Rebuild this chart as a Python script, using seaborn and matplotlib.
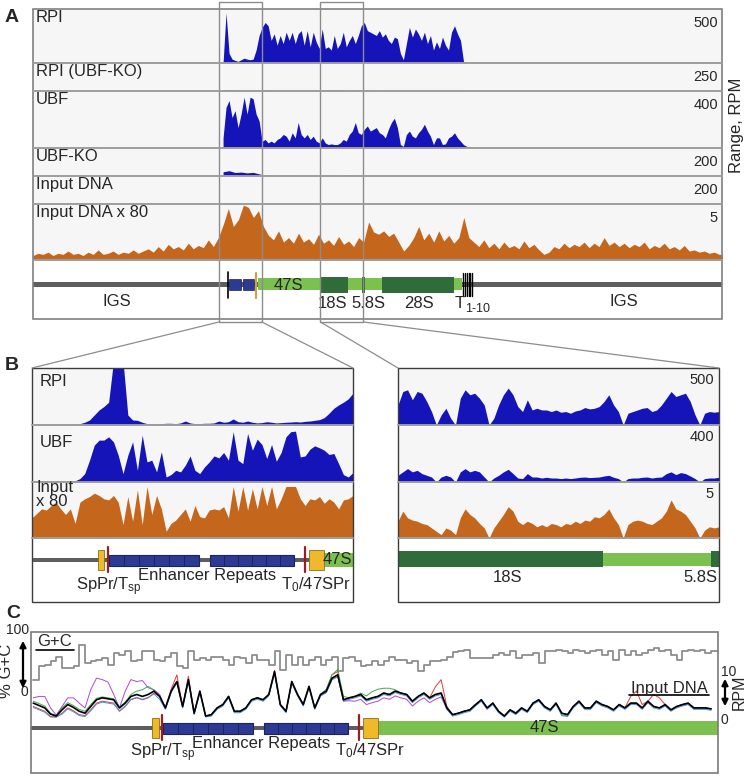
import numpy as np
import pandas as pd
import seaborn as sns
import matplotlib
matplotlib.use('Agg')
import matplotlib.pyplot as plt
from matplotlib.patches import Rectangle

W, H = 747, 776

# ---------------- data ----------------
# genomic position in kb, 47S transcription start = 0
A_XLIM = (-14.6, 30.1)
B_LEFT_XLIM = (-2.54, 0.25)
B_RIGHT_XLIM = (4.05, 6.84)
C_XLIM = (-3.02, 2.96)

# panel A, RPI / UBF ChIP (RPM), bins of 0.195 kb from -2.27 kb
A_CHIP_START, A_CHIP_STEP = -2.27, 0.195
rpi_a = [0, 465, 90, 36, 24, 15, 30, 45, 36, 30,
         36, 120, 255, 330, 375, 345, 210, 270, 165, 255,
         180, 285, 210, 285, 180, 270, 300, 165, 300, 150,
         285, 195, 135, 315, 135, 150, 120, 255, 135, 180,
         285, 150, 210, 255, 180, 255, 345, 375, 300, 285,
         270, 255, 300, 240, 270, 210, 180, 240, 225, 90,
         30, 180, 330, 240, 315, 270, 210, 285, 180, 255,
         120, 195, 135, 240, 165, 120, 285, 345, 270, 210,
         15, 6, 0]
ubf_a = [71, 286, 333, 214, 262, 143, 238, 357, 238, 357,
         345, 238, 190, 48, 60, 36, 48, 36, 60, 71,
         95, 83, 48, 107, 71, 179, 95, 71, 95, 60,
         83, 48, 36, 71, 36, 24, 29, 24, 24, 36,
         60, 48, 95, 119, 179, 107, 95, 131, 155, 119,
         131, 143, 107, 95, 71, 131, 179, 209, 143, 24,
         12, 95, 119, 83, 71, 107, 131, 167, 119, 83,
         24, 71, 71, 24, 29, 71, 83, 107, 71, 48,
         24, 12, 5]

# knockouts and plain input, bins of 0.39 kb
A_KO_START, A_KO_STEP = -2.27, 0.39
rpi_ko_a = [12, 14, 10, 6, 8, 0, 6, 10, 8, 5, 8, 6, 0, 5, 6, 8, 5, 6, 10, 12,
            8, 6, 10, 5, 8, 6, 0, 5, 6, 8, 6, 5, 8, 6, 5, 6, 0, 5, 6, 5, 0, 0]
ubf_ko_a = [30, 38, 25, 28, 22, 26, 15, 5, 4, 3, 4, 5, 3, 4, 0, 3, 4, 5, 4, 3,
            4, 5, 3, 4, 4, 3, 0, 3, 4, 3, 4, 3, 4, 3, 0, 3, 4, 3, 0, 0, 0, 0]
input_a = [8, 6, 4, 7, 5, 4, 2, 1, 1, 2, 1, 1, 2, 1, 1, 2, 1, 1, 2, 1,
           1, 1, 2, 1, 1, 1, 2, 1, 1, 1, 2, 1, 1, 1, 1, 2, 1, 1, 1, 0, 0, 0]

# input DNA x 80 over the whole repeat, bins of 0.325 kb
A_IN80_START, A_IN80_STEP = -14.6, 0.325
input80_a = [0.4, 0.6, 0.5, 0.7, 0.4, 0.6, 0.5, 0.8, 0.5, 0.6,
             0.4, 0.7, 0.5, 0.9, 0.5, 0.6, 0.8, 0.5, 0.7, 0.6,
             0.9, 0.6, 0.8, 1.0, 0.7, 1.2, 0.8, 1.4, 1.0, 1.2,
             0.9, 1.5, 1.0, 1.3, 1.1, 1.8, 1.2, 2.0, 3.2, 4.6,
             3.0, 3.6, 4.9, 4.7, 3.8, 4.4, 3.0, 2.2, 1.8, 2.6,
             1.6, 2.0, 1.5, 2.4, 1.6, 1.9, 1.4, 2.3, 1.5, 1.8,
             1.3, 2.1, 1.4, 1.7, 1.2, 2.0, 1.6, 3.4, 2.5, 2.3,
             2.6, 2.1, 2.4, 1.6, 0.8, 1.3, 2.0, 3.0, 1.8, 2.4,
             1.6, 2.6, 1.7, 2.2, 1.5, 2.0, 3.8, 2.0, 1.6, 1.2,
             1.8, 1.1, 1.5, 1.0, 1.6, 1.1, 1.3, 1.0, 1.7, 1.1,
             1.4, 0.9, 0.5, 0.7, 1.2, 1.0, 1.5, 1.1, 1.4, 1.2,
             1.6, 1.1, 1.5, 1.2, 2.0, 1.3, 1.6, 1.2, 1.5, 1.1,
             1.4, 1.2, 1.6, 1.0, 1.3, 1.1, 1.5, 1.0, 1.2, 0.9,
             1.3, 0.8, 0.9, 0.7, 0.8, 0.6, 0.7, 0.5, 0.5]

a_labels = ['RPI', 'RPI (UBF-KO)', 'UBF', 'UBF-KO', 'Input DNA', 'Input DNA x 80']
a_ranges = [500, 250, 400, 200, 200, 5]

# panel B, values spread evenly across each zoom window
rpi_bl = [0, 0, 0, 0, 0, 6, 6, 6, 6, 6, 12, 24, 44, 88, 132, 162, 200, 560, 560, 560,
          88, 44, 41, 24, 12, 9, 9, 12, 15, 15, 12, 18, 35, 18, 12, 12, 15, 15, 18, 35,
          24, 29, 53, 29, 24, 35, 24, 18, 21, 29, 24, 18, 21, 24, 26, 29, 26, 32, 35, 41,
          47, 65, 103, 147, 176, 200, 229, 279]
ubf_bl = [5, 5, 5, 5, 5, 5, 5, 5, 5, 9, 24, 59, 153, 259, 294, 294, 317, 282, 188, 59,
          188, 282, 82, 329, 141, 153, 71, 212, 35, 52, 82, 71, 118, 183, 82, 59, 106, 141, 183, 169,
          207, 153, 353, 153, 129, 341, 223, 301, 263, 165, 263, 146, 207, 317, 353, 357, 176, 183, 230, 254,
          240, 223, 193, 200, 129, 52, 35, 66]
input80_bl = [1.8, 2.2, 2.6, 2.5, 2.9, 3.2, 2.6, 2.1, 2.6, 1.3, 3.2, 3.5, 3.7, 4.0, 3.8, 3.5, 3.4, 3.8, 3.2, 1.2,
              3.7, 1.5, 4.3, 1.2, 4.6, 2.1, 3.8, 2.6, 0.6, 1.3, 1.6, 2.1, 2.6, 1.5, 2.9, 1.9, 1.8, 2.5, 2.6, 2.5,
              2.8, 1.8, 4.6, 2.4, 4.6, 2.5, 4.4, 2.6, 4.6, 2.9, 4.6, 2.6, 3.5, 4.6, 4.6, 4.6, 3.5, 2.9, 3.5, 3.4,
              3.7, 3.1, 3.5, 3.2, 2.6, 3.4, 3.5, 3.8]
rpi_br = [176, 294, 309, 221, 294, 279, 206, 118, 0, 88, 147, 59, 0, 235, 309, 265, 279, 235, 176, 0,
          59, 176, 265, 324, 265, 162, 118, 221, 132, 147, 132, 132, 118, 132, 112, 118, 103, 123, 132, 153,
          141, 147, 162, 206, 265, 176, 118, 0, 103, 118, 132, 147, 153, 118, 132, 176, 235, 294, 250, 265,
          279, 206, 88, 0, 103, 118, 112, 118]
ubf_br = [47, 71, 94, 71, 82, 59, 47, 35, 0, 35, 47, 35, 0, 71, 94, 71, 82, 71, 35, 0,
          28, 47, 71, 89, 59, 28, 24, 59, 35, 35, 28, 33, 28, 28, 24, 28, 24, 28, 33, 35,
          31, 33, 35, 42, 47, 33, 24, 0, 24, 28, 28, 33, 35, 28, 33, 35, 59, 71, 52, 66,
          59, 42, 24, 0, 24, 28, 28, 33]
input80_br = [1.5, 2.4, 1.8, 1.6, 1.5, 1.3, 1.2, 0.9, 0.6, 0.3, 0.9, 0.7, 0.3, 1.8, 2.6, 2.1, 1.8, 1.3, 0.9, 0.0,
              0.9, 1.5, 2.1, 2.8, 2.4, 1.5, 1.2, 1.5, 1.3, 1.0, 1.2, 1.0, 1.3, 1.2, 1.0, 1.3, 1.2, 1.5, 1.3, 1.6,
              1.5, 1.9, 1.8, 2.1, 2.6, 1.8, 1.2, 0.0, 1.2, 1.5, 1.6, 1.5, 1.3, 1.2, 1.5, 1.8, 2.4, 3.4, 2.6, 2.4,
              2.1, 1.5, 0.9, 0.0, 0.7, 1.0, 0.9, 1.0]
b_labels = ['RPI', 'UBF', 'Input\nx 80']
b_ranges = [500, 400, 5]

# panel C, input DNA replicates (RPM), 50 bp bins from -3.0 kb
C_START, C_STEP = -3.0, 0.05
input_black = [3.1, 2.6, 2.1, 0.8, 0.4, 1.7, 2.8, 2.2, 1.4, 1.0, 2.4, 3.8, 4.2, 4.0, 3.8, 2.1, 3.1, 4.5, 4.9, 4.5,
               4.9, 5.6, 4.5, 2.1, 5.6, 7.6, 2.4, 8.0, 1.0, 5.6, 0.4, 0.7, 2.1, 2.8, 4.5, 1.4, 1.4, 2.1, 3.8, 4.2,
               3.8, 4.9, 9.7, 2.8, 1.4, 7.6, 4.9, 2.8, 6.6, 2.1, 4.9, 5.6, 8.3, 9.0, 3.8, 4.2, 4.5, 4.9, 3.8, 4.2,
               4.5, 5.2, 4.9, 5.6, 5.2, 4.9, 3.5, 4.5, 5.2, 4.2, 4.9, 5.2, 2.1, 0.7, 1.0, 1.4, 1.7, 2.8, 3.8, 2.1,
               3.1, 1.4, 0.4, 1.7, 1.0, 2.1, 1.4, 3.1, 3.8, 2.4, 1.7, 3.1, 1.0, 0.7, 2.4, 3.5, 2.1, 2.1, 3.5, 2.8,
               2.4, 1.7, 2.8, 2.1, 3.1, 3.1, 2.1, 3.5, 2.4, 2.1, 2.8, 1.7, 2.4, 2.8, 3.1, 2.1, 2.1, 2.1, 1.9]
input_purple = [4.2, 4.5, 4.5, 2.1, 0.6, 2.4, 4.2, 4.2, 3.1, 2.1, 5.9, 8.3, 8.0, 7.5, 4.9, 2.1, 5.6, 8.0, 7.6, 7.8,
                6.3, 5.9, 4.9, 2.1, 5.6, 7.6, 2.4, 8.0, 1.0, 5.6, 0.4, 0.7, 2.1, 2.8, 4.5, 1.4, 1.4, 2.1, 3.8, 4.2,
                3.8, 4.9, 9.2, 2.8, 1.4, 7.2, 4.9, 2.8, 6.3, 2.1, 4.6, 5.3, 8.0, 8.6, 3.5, 3.6, 3.5, 3.9, 2.8, 3.2,
                3.5, 4.2, 3.9, 4.6, 4.2, 3.9, 2.5, 3.5, 4.2, 3.2, 3.9, 4.4, 1.8, 0.7, 1.0, 1.4, 1.7, 2.8, 3.6, 2.1,
                3.1, 1.4, 0.4, 1.7, 1.0, 2.1, 1.4, 3.1, 3.6, 2.4, 1.7, 3.1, 1.0, 0.7, 2.4, 3.3, 2.1, 2.1, 3.3, 2.8,
                2.4, 1.7, 2.6, 2.1, 2.9, 3.1, 2.1, 3.3, 2.4, 2.1, 2.6, 1.7, 2.4, 2.6, 2.9, 2.1, 2.1, 2.1, 1.9]
input_red = [2.4, 1.9, 1.4, 0.3, 0.2, 1.0, 2.1, 1.5, 0.7, 0.5, 1.7, 3.1, 3.5, 3.3, 3.1, 1.4, 2.4, 3.8, 4.2, 3.8,
             4.2, 5.2, 4.5, 2.1, 6.0, 9.0, 2.4, 8.7, 1.0, 5.6, 0.4, 0.7, 2.1, 2.8, 4.5, 1.4, 1.4, 2.1, 3.8, 4.2,
             3.8, 4.9, 9.9, 2.8, 1.4, 7.6, 4.9, 2.8, 6.6, 2.1, 4.9, 5.6, 9.0, 9.7, 3.8, 4.2, 4.5, 4.9, 3.8, 4.2,
             4.5, 5.2, 4.9, 5.6, 5.2, 4.9, 3.5, 4.5, 5.2, 4.2, 6.5, 8.0, 2.4, 0.7, 1.0, 1.4, 1.7, 2.8, 3.8, 2.1,
             3.1, 1.4, 0.4, 1.7, 1.0, 2.1, 1.4, 3.1, 3.8, 2.4, 1.7, 3.1, 1.0, 0.7, 2.4, 3.5, 2.1, 2.1, 3.5, 2.8,
             2.4, 1.7, 2.8, 2.1, 4.5, 5.6, 2.8, 3.5, 4.9, 4.2, 2.8, 1.7, 2.4, 2.8, 3.1, 2.1, 2.1, 2.1, 1.9]
input_green = [3.5, 3.0, 2.5, 1.0, 0.5, 2.1, 3.2, 2.6, 1.8, 1.4, 2.8, 4.1, 4.4, 4.2, 4.0, 2.3, 3.3, 4.9, 5.6, 5.9,
               6.6, 5.8, 4.5, 2.1, 5.6, 7.6, 2.4, 7.8, 1.0, 5.4, 0.4, 0.7, 2.1, 2.8, 4.5, 1.4, 1.4, 2.1, 3.8, 4.2,
               3.8, 4.9, 9.4, 2.8, 1.4, 7.6, 4.9, 2.8, 6.6, 2.1, 4.9, 6.0, 9.0, 10.1, 4.5, 4.2, 4.5, 5.2, 4.6, 5.5,
               6.0, 6.2, 6.2, 5.9, 5.2, 4.9, 3.5, 4.5, 5.2, 4.2, 4.9, 5.2, 2.1, 0.7, 1.0, 1.4, 1.7, 2.8, 3.8, 2.1,
               3.1, 1.4, 0.4, 1.7, 1.0, 2.1, 1.4, 3.1, 3.8, 2.4, 1.7, 3.1, 0.5, 0.3, 2.4, 3.5, 2.1, 2.1, 3.5, 2.8,
               2.4, 1.7, 2.8, 2.1, 3.1, 3.1, 2.1, 3.5, 2.4, 2.1, 2.8, 1.7, 2.4, 2.8, 3.1, 2.1, 2.1, 2.1, 1.9]
input_blue = [2.2, 1.7, 1.2, 0.2, 0.2, 0.8, 1.9, 1.3, 0.5, 0.3, 1.5, 2.9, 3.3, 3.1, 2.9, 1.5, 2.5, 3.9, 4.3, 3.9,
              4.3, 5.0, 3.9, 1.8, 5.3, 7.3, 2.1, 7.7, 0.7, 5.3, 0.2, 0.4, 1.8, 2.5, 4.2, 1.1, 1.1, 1.8, 3.5, 3.9,
              3.5, 4.6, 9.4, 2.5, 1.1, 7.3, 4.6, 2.5, 6.3, 1.8, 4.6, 5.3, 8.0, 8.7, 3.5, 3.9, 4.2, 4.6, 3.5, 3.9,
              4.2, 4.9, 4.6, 5.3, 4.9, 4.6, 3.2, 4.2, 4.9, 3.9, 4.6, 4.9, 1.8, 0.4, 0.7, 1.1, 1.4, 2.5, 3.5, 1.8,
              2.8, 1.1, 0.2, 1.4, 0.7, 1.8, 1.1, 2.8, 3.5, 2.1, 1.4, 2.8, 0.7, 0.4, 2.1, 3.2, 1.8, 1.8, 3.2, 2.5,
              2.1, 1.4, 2.5, 1.8, 2.8, 2.8, 1.8, 3.2, 2.1, 1.8, 2.5, 1.4, 2.1, 2.5, 2.8, 1.8, 1.8, 1.8, 1.6]
# % G+C, 50 bp windows from -3.0 kb
gc_pct = [26, 49, 51, 57, 65, 46, 46, 49, 85, 54, 57, 60, 63, 51, 71, 68, 74, 57, 60, 74,
          74, 60, 57, 65, 71, 49, 46, 74, 60, 63, 60, 65, 65, 60, 51, 65, 63, 54, 68, 60,
          60, 51, 74, 43, 68, 51, 65, 51, 60, 65, 51, 60, 65, 40, 63, 65, 57, 49, 51, 57,
          51, 57, 65, 60, 60, 54, 57, 40, 51, 57, 57, 60, 65, 73, 74, 77, 63, 63, 63, 63,
          68, 71, 68, 74, 63, 68, 68, 71, 54, 74, 74, 77, 74, 71, 77, 74, 71, 74, 77, 68,
          74, 60, 77, 68, 74, 68, 71, 77, 80, 74, 77, 68, 60, 74, 77, 74, 77, 71, 74, 74]

# rDNA features (kb)
sppr_box = (-1.97, -1.91)
tsp_site = -1.88
enhancer_blocks = [(-1.87, -1.09), (-0.99, -0.26)]
repeats_per_block = 6
t0_site = -0.165
pr47_box = (-0.13, 0.0)
rrna_47s = (0.0, 13.25)
rrna_18s = (4.0, 5.83)
rrna_58s = (6.77, 6.93)
rrna_28s = (8.05, 12.7)
terminators = [13.3, 13.42, 13.54, 13.66, 13.78, 13.9]

# ---------------- style ----------------
sns.set_theme(style='white')
plt.rcParams['font.family'] = ['Liberation Sans', 'DejaVu Sans']
plt.rcParams['mathtext.fontset'] = 'custom'
plt.rcParams['mathtext.rm'] = 'Liberation Sans'
plt.rcParams['mathtext.it'] = 'Liberation Sans:italic'
plt.rcParams['mathtext.bf'] = 'Liberation Sans:bold'

BLUE = '#1414b8'
ORANGE = '#c4661c'
TRACK_BG = '#f6f6f6'
SEP = '#9d9d9d'
IGS_GRAY = '#5e5e5e'
ENH_BLUE = '#2d3a94'
ENH_EDGE = '#1b235f'
YELLOW = '#f0b92c'
RED_LINE = '#9c1c22'
LIGHT_GREEN = '#7cc04f'
DARK_GREEN = '#2f6c3a'
FS = 12


def frac(x0, y0, x1, y1):
    return [x0 / W, 1 - y1 / H, (x1 - x0) / W, (y1 - y0) / H]


def bare(ax):
    ax.set_xticks([])
    ax.set_yticks([])
    for s in ax.spines.values():
        s.set_visible(False)


def bins(start, step, vals):
    return start + step * np.arange(len(vals))


def track(rect, x, vals, color, vmax, xlim):
    ax = fig.add_axes(frac(*rect))
    ax.set_facecolor(TRACK_BG)
    ax.fill_between(x, 0, vals, color=color, lw=0)
    ax.set_xlim(xlim)
    ax.set_ylim(0, vmax)
    bare(ax)
    return ax


def promoter_map(ax, yc):
    xl = ax.get_xlim()
    ax.add_patch(Rectangle((xl[0] - 1, yc - 2.3), xl[1] - xl[0] + 2, 4.6, color=IGS_GRAY, lw=0))
    ax.add_patch(Rectangle((rrna_47s[0], yc - 7), rrna_47s[1], 13.5, color=LIGHT_GREEN, lw=0))
    for s, e in enhancer_blocks:
        ax.add_patch(Rectangle((s, yc - 5), e - s, 10.5, fc=ENH_BLUE, ec=ENH_EDGE, lw=0.8))
        for k in range(1, repeats_per_block):
            xx = s + (e - s) * k / repeats_per_block
            ax.plot([xx, xx], [yc - 5, yc + 5.5], color=ENH_EDGE, lw=0.7)
    for s, e in (sppr_box, pr47_box):
        ax.add_patch(Rectangle((s, yc - 10), e - s, 19.5, fc=YELLOW, ec='#8a6d1a', lw=0.6))
    for xs in (tsp_site, t0_site):
        ax.plot([xs, xs], [yc - 13, yc + 12], color=RED_LINE, lw=1.6)


def promoter_labels(ax, yc, d_small, d_enh):
    ax.text(tsp_site + 0.01, yc + d_small, r'SpPr/T$_{\mathrm{sp}}$', ha='center', va='top', fontsize=FS)
    ax.text(-1.02, yc + d_enh, 'Enhancer Repeats', ha='center', va='top', fontsize=FS)
    ax.text(-0.07, yc + d_small, r'T$_{\mathrm{0}}$/47SPr', ha='center', va='top', fontsize=FS)


fig = plt.figure(figsize=(W / 100, H / 100), dpi=100)

# ---------------- panel A ----------------
A_BOX = (33, 9, 722, 319)
a_edges = [9, 63, 91, 148, 176, 204, 260]
a_data = [
    (bins(A_CHIP_START, A_CHIP_STEP, rpi_a), rpi_a, BLUE),
    (bins(A_KO_START, A_KO_STEP, rpi_ko_a), rpi_ko_a, BLUE),
    (bins(A_CHIP_START, A_CHIP_STEP, ubf_a), ubf_a, BLUE),
    (bins(A_KO_START, A_KO_STEP, ubf_ko_a), ubf_ko_a, BLUE),
    (bins(A_KO_START, A_KO_STEP, input_a), input_a, ORANGE),
    (bins(A_IN80_START, A_IN80_STEP, input80_a), input80_a, ORANGE),
]
for i, (x, v, c) in enumerate(a_data):
    track((A_BOX[0], a_edges[i], A_BOX[2], a_edges[i + 1]), x, v, c, a_ranges[i], A_XLIM)

axm = fig.add_axes(frac(A_BOX[0], 260, A_BOX[2], 319))
axm.set_xlim(A_XLIM)
axm.set_ylim(319, 260)
bare(axm)
axm.add_patch(Rectangle((A_XLIM[0], 282), A_XLIM[1] - A_XLIM[0], 5, color=IGS_GRAY, lw=0))
axm.add_patch(Rectangle((rrna_47s[0], 278), rrna_47s[1], 12, color=LIGHT_GREEN, lw=0))
for s, e in (rrna_18s, rrna_28s, rrna_58s):
    axm.add_patch(Rectangle((s, 277), e - s, 16, color=DARK_GREEN, lw=0))
for s, e in enhancer_blocks:
    axm.add_patch(Rectangle((s, 279), e - s, 11, fc=ENH_BLUE, ec=ENH_EDGE, lw=0.5))
axm.plot([tsp_site - 0.05] * 2, [272, 298], color='black', lw=1.2)
axm.plot([pr47_box[0]] * 2, [273, 298], color='#c9a24a', lw=1.6)
for t in terminators:
    axm.plot([t, t], [273, 296], color='black', lw=1.0)
axm.text(-9.15, 302, 'IGS', ha='center', va='center', fontsize=FS)
axm.text(23.7, 302, 'IGS', ha='center', va='center', fontsize=FS)
axm.text(2.0, 285, '47S', ha='center', va='center', fontsize=FS)
axm.text(4.8, 304, '18S', ha='center', va='center', fontsize=FS)
axm.text(7.15, 304, '5.8S', ha='center', va='center', fontsize=FS)
axm.text(10.45, 304, '28S', ha='center', va='center', fontsize=FS)
axm.text(12.75, 304, 'T', ha='left', va='center', fontsize=FS)
axm.text(13.4, 309, '1-10', ha='left', va='center', fontsize=9)

# ---------------- panel B ----------------
B_LEFT_BOX = (32, 368, 353, 602)
B_RIGHT_BOX = (398, 368, 719, 602)
b_edges = [368, 425, 482, 538]
for box, xl, series in ((B_LEFT_BOX, B_LEFT_XLIM, (rpi_bl, ubf_bl, input80_bl)),
                        (B_RIGHT_BOX, B_RIGHT_XLIM, (rpi_br, ubf_br, input80_br))):
    for i, v in enumerate(series):
        x = np.linspace(xl[0], xl[1], len(v))
        track((box[0], b_edges[i], box[2], b_edges[i + 1]), x, v,
              ORANGE if i == 2 else BLUE, b_ranges[i], xl)

axbl = fig.add_axes(frac(B_LEFT_BOX[0], 538, B_LEFT_BOX[2], 602))
axbl.set_xlim(B_LEFT_XLIM)
axbl.set_ylim(602, 538)
bare(axbl)
promoter_map(axbl, 560)
promoter_labels(axbl, 560, 15, 8)
axbl.text(0.11, 560, '47S', ha='center', va='center', fontsize=FS)

axbr = fig.add_axes(frac(B_RIGHT_BOX[0], 538, B_RIGHT_BOX[2], 602))
axbr.set_xlim(B_RIGHT_XLIM)
axbr.set_ylim(602, 538)
bare(axbr)
axbr.add_patch(Rectangle((rrna_18s[1], 553), rrna_58s[0] - rrna_18s[1], 13, color=LIGHT_GREEN, lw=0))
for s, e in (rrna_18s, rrna_58s):
    axbr.add_patch(Rectangle((s, 551), e - s, 16, color=DARK_GREEN, lw=0))
axbr.text(5.0, 577, '18S', ha='center', va='center', fontsize=FS)
axbr.text(6.68, 577, '5.8S', ha='center', va='center', fontsize=FS)

# ---------------- panel C ----------------
C_BOX = (31, 632, 718, 773)
axcm = fig.add_axes(frac(C_BOX[0], 700, C_BOX[2], 773))
axcm.set_xlim(C_XLIM)
axcm.set_ylim(773, 700)
bare(axcm)
promoter_map(axcm, 728)
promoter_labels(axcm, 728, 13, 8)
axcm.text(1.45, 728, '47S', ha='center', va='center', fontsize=FS)

gc_x = list(bins(C_START, C_STEP, gc_pct)) + [C_START + C_STEP * len(gc_pct)]
gc_df = pd.DataFrame({'kb': gc_x, 'gc': gc_pct + [gc_pct[-1]]})
axgc = fig.add_axes(frac(C_BOX[0], 636, C_BOX[2], 695))
axgc.set_facecolor('none')
sns.lineplot(data=gc_df, x='kb', y='gc', drawstyle='steps-post', color='#8e8e8e',
             lw=1.3, errorbar=None, ax=axgc)
axgc.set_xlim(C_XLIM)
axgc.set_ylim(0, 100)
bare(axgc)
axgc.set_xlabel('')
axgc.set_ylabel('')

reps = {'purple': input_purple, 'red': input_red, 'green': input_green, 'blue': input_blue}
rep_df = pd.concat([pd.DataFrame({'kb': bins(C_START, C_STEP, v), 'rpm': v, 'sample': k})
                    for k, v in reps.items()], ignore_index=True)
black_df = pd.DataFrame({'kb': bins(C_START, C_STEP, input_black), 'rpm': input_black})
axr = fig.add_axes(frac(C_BOX[0], 658, C_BOX[2], 718))
axr.set_facecolor('none')
sns.lineplot(data=rep_df, x='kb', y='rpm', hue='sample', lw=0.7, errorbar=None, legend=False,
             palette={'purple': '#b046d2', 'red': '#e23a3a', 'green': '#3fae48', 'blue': '#4a8fe2'},
             ax=axr)
sns.lineplot(data=black_df, x='kb', y='rpm', color='black', lw=1.2, errorbar=None, ax=axr)
axr.set_xlim(C_XLIM)
axr.set_ylim(0, 12.5)
for s in axr.spines.values():
    s.set_visible(False)
axr.set_xticks([])
axr.yaxis.tick_right()
axr.set_yticks([0, 10])
axr.set_yticklabels(['0', '10'])
axr.tick_params(axis='y', length=0, pad=2, labelsize=10)
axr.set_xlabel('')
axr.set_ylabel('')

# ---------------- overlay: frames, windows, labels ----------------
ov = fig.add_axes([0, 0, 1, 1])
ov.set_xlim(0, W)
ov.set_ylim(H, 0)
ov.axis('off')
ov.set_zorder(20)
ov.patch.set_alpha(0)


def a_px(kb):
    return A_BOX[0] + (kb - A_XLIM[0]) / (A_XLIM[1] - A_XLIM[0]) * (A_BOX[2] - A_BOX[0])


for y in a_edges[1:]:
    ov.plot([A_BOX[0], A_BOX[2]], [y, y], color=SEP, lw=1.4)
for box in (B_LEFT_BOX, B_RIGHT_BOX):
    for y in b_edges[1:]:
        ov.plot([box[0], box[2]], [y, y], color=SEP, lw=1.4)
    ov.add_patch(Rectangle((box[0], box[1]), box[2] - box[0], box[3] - box[1],
                           fill=False, ec='#3c3c3c', lw=1.0))
ov.add_patch(Rectangle((A_BOX[0], A_BOX[1]), A_BOX[2] - A_BOX[0], A_BOX[3] - A_BOX[1],
                       fill=False, ec='#808080', lw=1.2))
ov.add_patch(Rectangle((C_BOX[0], C_BOX[1]), C_BOX[2] - C_BOX[0], C_BOX[3] - C_BOX[1],
                       fill=False, ec='#7a7a7a', lw=1.2))

for xl, box in ((B_LEFT_XLIM, B_LEFT_BOX), (B_RIGHT_XLIM, B_RIGHT_BOX)):
    x0, x1 = a_px(xl[0]), a_px(xl[1])
    ov.add_patch(Rectangle((x0, 2), x1 - x0, 320, fill=False, ec='#8c8c8c', lw=1.0))
    ov.plot([x0, box[0]], [322, box[1]], color='#8c8c8c', lw=0.9)
    ov.plot([x1, box[2]], [322, box[1]], color='#8c8c8c', lw=0.9)

for i, lab in enumerate(a_labels):
    ov.text(36, a_edges[i] + 1, lab, ha='left', va='top', fontsize=FS)
    ov.text(718, a_edges[i] + 14, str(a_ranges[i]), ha='right', va='center', fontsize=10.5)
ov.text(736, 125, 'Range, RPM', rotation=90, ha='center', va='center', fontsize=FS)

ov.text(40, 374, b_labels[0], ha='left', va='top', fontsize=FS)
ov.text(40, 435, b_labels[1], ha='left', va='top', fontsize=FS)
ov.text(36, 480, b_labels[2], ha='left', va='top', fontsize=FS, linespacing=0.9)
for i, r in enumerate(b_ranges):
    ov.text(714, b_edges[i] + 12, str(r), ha='right', va='center', fontsize=10.5)

# G+C axis labels of panel C
ov.text(29, 630, '100', ha='right', va='center', fontsize=10)
ov.text(28, 692, '0', ha='right', va='center', fontsize=10)
ov.text(7, 671, '% G+C', rotation=90, ha='center', va='center', fontsize=FS)
ov.annotate('', xy=(23, 638), xytext=(23, 691),
            arrowprops=dict(arrowstyle='<|-|>', color='black', lw=1.6, mutation_scale=9))
ov.text(37, 642, 'G+C', ha='left', va='center', fontsize=FS)
ov.plot([36, 74], [650, 650], color='black', lw=1.2)
ov.text(708, 688, 'Input DNA', ha='right', va='center', fontsize=FS)
ov.plot([629, 709], [695, 695], color='black', lw=1.2)
ov.annotate('', xy=(725, 676), xytext=(725, 709),
            arrowprops=dict(arrowstyle='<|-|>', color='black', lw=1.6, mutation_scale=9))
ov.text(739, 692, 'RPM', rotation=90, ha='center', va='center', fontsize=11.5)

for lab, x, y in (('A', 12, 17), ('B', 12, 366), ('C', 13, 614)):
    ov.text(x, y, lab, ha='center', va='center', fontsize=14, fontweight='bold')

fig.savefig('out.png', dpi=100)
